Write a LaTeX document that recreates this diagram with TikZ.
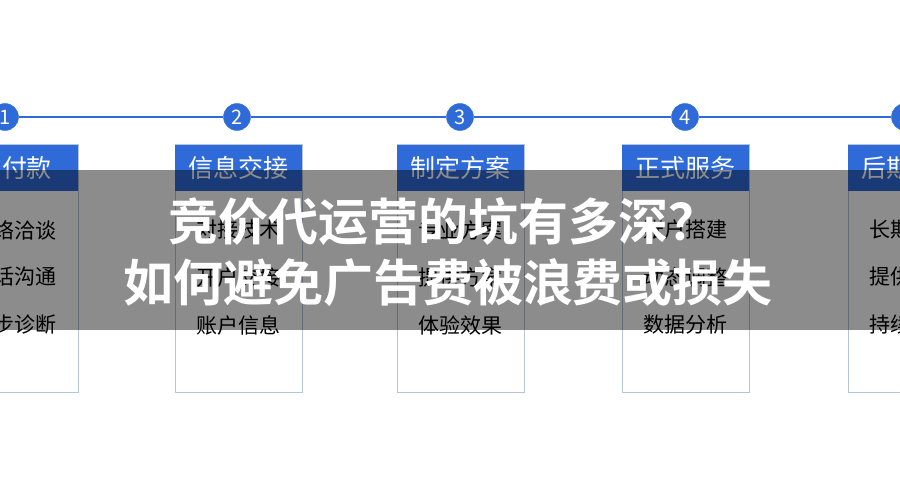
\documentclass[tikz,border=0pt]{standalone}
\usepackage{fontspec}
\setmainfont{Noto Sans CJK SC}
\newfontfamily\titlefont{Noto Sans CJK SC Bold}
\definecolor{stepblue}{HTML}{2F6BD8}
\definecolor{boxline}{HTML}{B8C4D8}
\begin{document}
\begin{tikzpicture}[x=1pt,y=-1pt]
\tikzstyle{num}=[draw=stepblue,fill=stepblue,shape=circle,minimum size=27pt,inner sep=0pt,text=white,font=\fontsize{20}{20}\selectfont]
\tikzstyle{head}=[fill=stepblue,minimum width=127pt,minimum height=46pt,inner sep=0pt,text=white,font=\fontsize{25}{25}\selectfont]
\tikzstyle{body}=[draw=boxline,line width=1pt]
\tikzstyle{item}=[font=\fontsize{21}{21}\selectfont,text=black]
\useasboundingbox (0,0) rectangle (900,500);
\fill[white] (0,0) rectangle (900,500);

\path (5,117) node[num](n1){1} (237,117) node[num](n2){2} (460,117) node[num](n3){3}
      (685,117) node[num](n4){4} (905,117) node[num](n5){5};
\coordinate (lineL) at (-20,117);
\coordinate (lineR) at (920,117);
\draw[stepblue,line width=2pt] (lineL) -- (n1) -- (n2) -- (n3) -- (n4) -- (n5) -- (lineR);

\draw[body] (-49,145) rectangle (78,392);
\path (14.5,168) node[head](h1){约付款};
\path (14.5,230) node[item]{网络洽谈} (14.5,277) node[item]{电话沟通} (14.5,325) node[item]{初步诊断};

\draw[body] (175,145) rectangle (302,392);
\path (238.5,168) node[head](h2){信息交接};
\path (238.5,230) node[item]{对接技术} (238.5,277) node[item]{开户交接} (238.5,325) node[item]{账户信息};

\draw[body] (397,145) rectangle (524,392);
\path (460.5,168) node[head](h3){制定方案};
\path (460.5,230) node[item]{专业方案} (460.5,277) node[item]{提供方案} (460.5,325) node[item]{体验效果};

\draw[body] (622,145) rectangle (749,392);
\path (685.5,168) node[head](h4){正式服务};
\path (685.5,230) node[item]{账户搭建} (685.5,277) node[item]{动态调整} (685.5,325) node[item]{数据分析};

\draw[body] (848,145) rectangle (975,392);
\path (911.5,168) node[head](h5){后期服务};
\path (911.5,230) node[item]{长期维护} (911.5,277) node[item]{提供报告} (911.5,325) node[item]{持续优化};

% overlay band
\fill[black,opacity=0.45] (0,170) rectangle (900,330);
\path (443,222) node[text=white,font=\titlefont\fontsize{50}{50}\selectfont](t1){竞价代运营的坑有多深？};
\path (448,283) node[text=white,font=\titlefont\fontsize{50}{50}\selectfont](t2){如何避免广告费被浪费或损失};
\end{tikzpicture}
\end{document}
